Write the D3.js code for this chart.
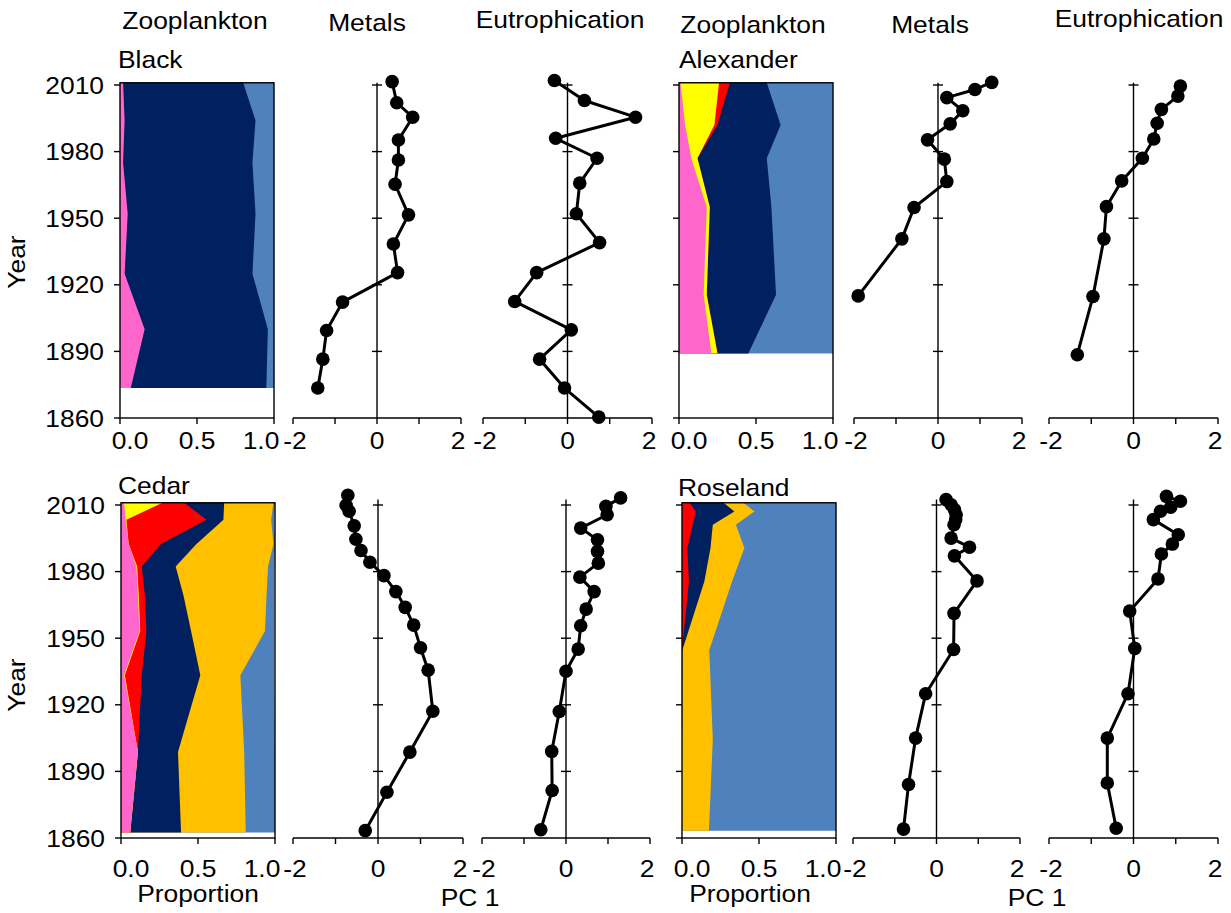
<!DOCTYPE html>
<html><head><meta charset="utf-8">
<script src="https://cdn.jsdelivr.net/npm/d3@7"></script>
<style>
body{margin:0;background:#fff}
svg{display:block}
text{font-family:"Liberation Sans",Arial,sans-serif;font-size:24px;fill:#000}
</style>
</head><body>
<svg id="chart" width="1231" height="913"></svg>
<script>
// ---------------- DATA ----------------
const yearTicks = [1860, 1890, 1920, 1950, 1980, 2010];
const propTicks = [0, 0.5, 1];
const propTickLabels = ["0.0", "0.5", "1.0"];
const pcTicks = [-2, -1, 0, 1, 2];
const pcLabelTicks = [-2, 0, 2];

const zooKeys = ["pink", "yellow", "red", "navy", "gold", "steel"];
const zooColors = ["#FF66CC", "#FFFF00", "#FF0000", "#002060", "#FFC000", "#4F81BD"];

// Black
const blackZooYears = [2011, 1994, 1975, 1952, 1925, 1900, 1873.5];
const blackPink  = [0.02, 0.03, 0.02, 0.05, 0.03, 0.16, 0.07];
const blackNavy  = [0.78, 0.85, 0.84, 0.83, 0.83, 0.80, 0.88];
const blackSteel = [0.20, 0.12, 0.14, 0.12, 0.14, 0.04, 0.05];
const blackMetalsYears = [2011.5, 2002, 1995.5, 1985.2, 1976.2, 1965.3, 1951.5, 1938.4, 1925.5, 1912.2, 1899.4, 1886.5, 1873.5];
const blackMetals = [0.36, 0.47, 0.85, 0.51, 0.51, 0.43, 0.75, 0.39, 0.49, -0.82, -1.20, -1.29, -1.41];
const blackEutroYears = [2012, 2003, 1995.5, 1986, 1977, 1965.8, 1952, 1939, 1925.5, 1912.5, 1899.7, 1886.5, 1873.5, 1860.4];
const blackEutro = [-0.31, 0.40, 1.61, -0.28, 0.70, 0.29, 0.21, 0.76, -0.73, -1.25, 0.09, -0.66, -0.07, 0.74];

// Alexander
const alexZooYears = [2011, 1992, 1977, 1955, 1915.5, 1889];
const alexPink   = [0.01, 0.04, 0.08, 0.18, 0.16, 0.21];
const alexYellow = [0.25, 0.19, 0.04, 0.02, 0.02, 0.04];
const alexRed    = [0.07, 0.02, 0, 0, 0, 0];
const alexNavy   = [0.24, 0.41, 0.45, 0.40, 0.45, 0.20];
const alexSteel  = [0.43, 0.34, 0.43, 0.40, 0.37, 0.55];
const alexMetalsYears = [2011.2, 2008, 2004.3, 1998.4, 1992.5, 1985.3, 1976.6, 1966.5, 1954.8, 1940.7, 1915];
const alexMetals = [1.28, 0.88, 0.21, 0.59, 0.29, -0.25, 0.15, 0.21, -0.57, -0.86, -1.90];
const alexEutroYears = [2009.5, 2005, 1999, 1992.8, 1985.7, 1977, 1966.8, 1955.2, 1940.7, 1914.7, 1888.5];
const alexEutro = [1.11, 1.05, 0.66, 0.56, 0.48, 0.21, -0.28, -0.64, -0.70, -0.96, -1.33];

// Cedar
const cedarZooYears = [2011, 2003.4, 1992.4, 1982.3, 1969.5, 1953.2, 1933.3, 1898.7, 1862.5];
const cedarPink   = [0.02, 0.03, 0.05, 0.10, 0.11, 0.12, 0.02, 0.11, 0.06];
const cedarYellow = [0.25, 0.005, 0, 0.005, 0.005, 0.005, 0.005, 0, 0];
const cedarRed    = [0.14, 0.52, 0.21, 0.03, 0.04, 0.04, 0.11, 0, 0];
const cedarNavy   = [0.26, 0.11, 0.23, 0.22, 0.25, 0.29, 0.38, 0.26, 0.33];
const cedarGold   = [0.32, 0.31, 0.50, 0.60, 0.54, 0.48, 0.26, 0.43, 0.42];
const cedarSteel  = [0.01, 0.02, 0.01, 0.04, 0.05, 0.06, 0.22, 0.20, 0.19];
const cedarMetalsYears = [2014.4, 2009.9, 2007.2, 2000.6, 1994.6, 1989.5, 1984.2, 1978.2, 1971, 1963.9, 1955.9, 1945.7, 1935.6, 1917.1, 1898.7, 1880.6, 1863.3];
const cedarMetals = [-0.71, -0.75, -0.68, -0.56, -0.52, -0.40, -0.19, 0.14, 0.42, 0.64, 0.84, 1.00, 1.18, 1.29, 0.75, 0.21, -0.30];
const cedarEutroYears = [2013.2, 2009.4, 2005.6, 1999.6, 1994.3, 1989.1, 1983.8, 1977.5, 1971, 1963.1, 1955.6, 1945.1, 1935.1, 1917, 1899, 1881.4, 1863.7];
const cedarEutro = [1.30, 0.95, 0.98, 0.35, 0.75, 0.75, 0.77, 0.33, 0.67, 0.48, 0.35, 0.29, 0.00, -0.16, -0.34, -0.33, -0.60];

// Roseland
const roseZooYears = [2011, 2007.1, 2001.1, 1990.6, 1975.5, 1944.6, 1904.7, 1863.3];
const roseRed   = [0.05, 0.09, 0.07, 0.035, 0.045, 0, 0, 0];
const roseNavy  = [0.22, 0.25, 0.13, 0.15, 0.10, 0.002, 0, 0];
const roseGold  = [0.13, 0.13, 0.15, 0.22, 0.18, 0.175, 0.20, 0.175];
const roseSteel = [0.60, 0.53, 0.65, 0.60, 0.675, 0.823, 0.80, 0.825];
const roseMetalsYears = [2012.4, 2010.1, 2007.9, 2005.6, 2003.4, 2001.1, 1995.1, 1991, 1987.1, 1975.8, 1961.2, 1944.9, 1925, 1905, 1884.1, 1864];
const roseMetals = [0.23, 0.35, 0.43, 0.47, 0.46, 0.42, 0.35, 0.79, 0.43, 0.97, 0.42, 0.41, -0.26, -0.50, -0.67, -0.79];
const roseEutroYears = [2013.9, 2011.7, 2009, 2007.2, 2003.4, 1996.6, 1992.4, 1987.9, 1976.7, 1962.2, 1945.4, 1925, 1905, 1884.8, 1864.4];
const roseEutro = [0.78, 1.11, 0.88, 0.64, 0.47, 1.06, 0.92, 0.66, 0.58, -0.09, 0.03, -0.13, -0.62, -0.62, -0.41];

// ---------------- LAYOUT ----------------
const svg = d3.select("#chart");
const SX = 1.1; // horizontal stretch of the original text

function label(g, x, y, str, anchor, rot) {
  return g.append("text")
    .attr("transform", `translate(${x},${y})` + (rot ? ` rotate(${rot})` : "") + ` scale(${SX},1)`)
    .attr("text-anchor", anchor || "start")
    .text(str);
}

const rows = [
  { y1860: 418, y2010: 85, frameTop: 2011, axisTop: 2011, tickLabelY: 449 },
  { y1860: 838, y2010: 505, frameTop: 2011, axisTop: 2012.5, tickLabelY: 877 }
];

// label nudges (end labels pulled inward, as in the original)
const propLabelShift = [10, 0, -13];
const pcLabelShift = [2, 0, -3];

const lakes = [
  { name: "Black", row: 0, showYear: true,
    zoo: { x0: 120, x1: 274, years: blackZooYears, pink: blackPink, navy: blackNavy, steel: blackSteel },
    metals: { x0: 293, x1: 461, years: blackMetalsYears, vals: blackMetals },
    eutro: { x0: 483, x1: 652, years: blackEutroYears, vals: blackEutro } },
  { name: "Alexander", row: 0, showYear: false,
    zoo: { x0: 679, x1: 833, years: alexZooYears, pink: alexPink, yellow: alexYellow, red: alexRed, navy: alexNavy, steel: alexSteel },
    metals: { x0: 854, x1: 1022, years: alexMetalsYears, vals: alexMetals },
    eutro: { x0: 1049, x1: 1218, years: alexEutroYears, vals: alexEutro } },
  { name: "Cedar", row: 1, showYear: true,
    zoo: { x0: 121, x1: 275, years: cedarZooYears, pink: cedarPink, yellow: cedarYellow, red: cedarRed, navy: cedarNavy, gold: cedarGold, steel: cedarSteel },
    metals: { x0: 293, x1: 463, years: cedarMetalsYears, vals: cedarMetals },
    eutro: { x0: 482, x1: 650, years: cedarEutroYears, vals: cedarEutro } },
  { name: "Roseland", row: 1, showYear: false,
    zoo: { x0: 682, x1: 836, years: roseZooYears, red: roseRed, navy: roseNavy, gold: roseGold, steel: roseSteel },
    metals: { x0: 853, x1: 1020, years: roseMetalsYears, vals: roseMetals },
    eutro: { x0: 1049, x1: 1218, years: roseEutroYears, vals: roseEutro } }
];

const AX = "#000", AXW = 1.4;

function drawZoo(lake) {
  const r = rows[lake.row], p = lake.zoo;
  const y = d3.scaleLinear().domain([1860, 2010]).range([r.y1860, r.y2010]);
  const x = d3.scaleLinear().domain([0, 1]).range([p.x0, p.x1]);
  const g = svg.append("g");
  const tbl = p.years.map((yr, i) => {
    const o = { year: yr };
    zooKeys.forEach(k => o[k] = p[k] ? p[k][i] : 0);
    return o;
  });
  const series = d3.stack().keys(zooKeys)(tbl);
  // paint right-to-left, each from 0 to its cumulative top, to avoid seams
  const area = d3.area().y(d => y(d.data.year)).x0(() => x(0)).x1(d => x(Math.min(1, d[1])));
  for (let i = series.length - 1; i >= 0; i--) {
    if (d3.max(series[i], d => d[1] - d[0]) <= 0) continue;
    g.append("path").attr("d", area(series[i])).attr("fill", zooColors[i]);
  }
  // frame
  g.append("rect").attr("x", x(0)).attr("y", y(r.frameTop))
    .attr("width", x(1) - x(0)).attr("height", y(1860) - y(r.frameTop))
    .attr("fill", "none").attr("stroke", AX).attr("stroke-width", AXW);
  // y ticks
  yearTicks.forEach(t => {
    g.append("line").attr("x1", x(0) - 6).attr("x2", x(0)).attr("y1", y(t)).attr("y2", y(t))
      .attr("stroke", AX).attr("stroke-width", AXW);
    if (lake.showYear) label(g, x(0) - 16, y(t) + 8.5, String(t), "end");
  });
  // x ticks
  propTicks.forEach((t, i) => {
    g.append("line").attr("x1", x(t)).attr("x2", x(t)).attr("y1", y(1860)).attr("y2", y(1860) + 6)
      .attr("stroke", AX).attr("stroke-width", AXW);
    label(g, x(t) + propLabelShift[i], r.tickLabelY, propTickLabels[i], "middle");
  });
}

function drawPC(lake, key, row) {
  const r = rows[row], p = lake[key];
  const y = d3.scaleLinear().domain([1860, 2010]).range([r.y1860, r.y2010]);
  const x = d3.scaleLinear().domain([-2, 2]).range([p.x0, p.x1]);
  const g = svg.append("g");
  g.append("line").attr("x1", x(-2)).attr("x2", x(2)).attr("y1", y(1860)).attr("y2", y(1860))
    .attr("stroke", AX).attr("stroke-width", AXW);
  pcTicks.forEach(t => {
    g.append("line").attr("x1", x(t)).attr("x2", x(t)).attr("y1", y(1860)).attr("y2", y(1860) + 6)
      .attr("stroke", AX).attr("stroke-width", AXW);
  });
  pcLabelTicks.forEach((t, i) => label(g, x(t) + pcLabelShift[i], r.tickLabelY, String(t), "middle"));
  g.append("line").attr("x1", x(0)).attr("x2", x(0)).attr("y1", y(1860)).attr("y2", y(r.axisTop))
    .attr("stroke", AX).attr("stroke-width", AXW);
  yearTicks.slice(1).forEach(t => {
    g.append("line").attr("x1", x(0) - 5).attr("x2", x(0) + 5).attr("y1", y(t)).attr("y2", y(t))
      .attr("stroke", AX).attr("stroke-width", AXW);
  });
  const pts = p.years.map((yr, i) => ({ year: yr, v: p.vals[i] }));
  g.append("path").attr("d", d3.line().x(d => x(d.v)).y(d => y(d.year))(pts))
    .attr("fill", "none").attr("stroke", "#000").attr("stroke-width", 3).attr("stroke-linejoin", "round");
  g.selectAll("circle.pt").data(pts).join("circle").attr("class", "pt")
    .attr("cx", d => x(d.v)).attr("cy", d => y(d.year)).attr("r", 6.8).attr("fill", "#000");
}

lakes.forEach(l => {
  drawZoo(l);
  drawPC(l, "metals", l.row);
  drawPC(l, "eutro", l.row);
});

// titles & labels
const T = svg.append("g");
label(T, 195, 29, "Zooplankton", "middle");
label(T, 367, 31, "Metals", "middle");
label(T, 560, 28, "Eutrophication", "middle");
label(T, 753, 33, "Zooplankton", "middle");
label(T, 930, 33, "Metals", "middle");
label(T, 1139, 27, "Eutrophication", "middle");
label(T, 118, 68, "Black", "start");
label(T, 679, 68, "Alexander", "start");
label(T, 118, 494, "Cedar", "start");
label(T, 678, 496, "Roseland", "start");
label(T, 25, 262, "Year", "middle", -90);
label(T, 25, 685, "Year", "middle", -90);
label(T, 198, 902, "Proportion", "middle");
label(T, 750, 902, "Proportion", "middle");
label(T, 470, 906, "PC 1", "middle");
label(T, 1037, 906, "PC 1", "middle");
</script>
</body></html>
